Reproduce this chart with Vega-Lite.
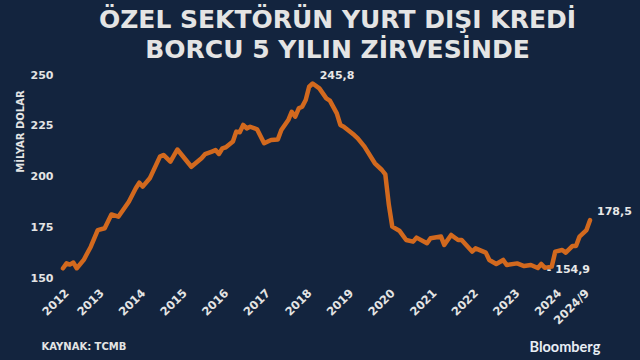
{
  "$schema": "https://vega.github.io/schema/vega-lite/v6.json",
  "width": 527,
  "height": 203,
  "autosize": {"type": "none"},
  "padding": {"left": 63, "top": 75, "right": 50, "bottom": 82},
  "background": "#13243e",
  "config": {"view": {"stroke": null}, "font": "DejaVu Sans"},
  "title": {
    "text": ["ÖZEL SEKTÖRÜN YURT DIŞI KREDİ", "BORCU 5 YILIN ZİRVESİNDE"],
    "font": "DejaVu Sans",
    "fontSize": 25,
    "fontWeight": "bold",
    "color": "#e4e4e4",
    "anchor": "middle",
    "frame": "group",
    "dx": 11,
    "offset": 6,
    "lineHeight": 30
  },
  "datasets": {
    "debt": [
      {"date": "2012-01-01", "value": 154.8},
      {"date": "2012-02-01", "value": 157.2},
      {"date": "2012-03-01", "value": 156.6},
      {"date": "2012-04-01", "value": 157.6},
      {"date": "2012-05-01", "value": 154.8},
      {"date": "2012-07-01", "value": 158.9},
      {"date": "2012-08-01", "value": 162.2},
      {"date": "2012-09-01", "value": 165.4},
      {"date": "2012-11-01", "value": 173.6},
      {"date": "2013-01-01", "value": 174.5},
      {"date": "2013-03-01", "value": 181.3},
      {"date": "2013-05-01", "value": 180.2},
      {"date": "2013-08-01", "value": 187.6},
      {"date": "2013-10-01", "value": 194.2},
      {"date": "2013-11-01", "value": 197.0},
      {"date": "2013-12-01", "value": 195.0},
      {"date": "2014-02-01", "value": 199.1},
      {"date": "2014-05-01", "value": 209.8},
      {"date": "2014-06-01", "value": 210.6},
      {"date": "2014-08-01", "value": 207.3},
      {"date": "2014-10-01", "value": 213.3},
      {"date": "2015-02-01", "value": 204.8},
      {"date": "2015-05-01", "value": 209.0},
      {"date": "2015-06-01", "value": 211.0},
      {"date": "2015-08-01", "value": 212.3},
      {"date": "2015-09-01", "value": 213.0},
      {"date": "2015-10-01", "value": 211.1},
      {"date": "2015-11-01", "value": 213.9},
      {"date": "2015-12-01", "value": 214.4},
      {"date": "2016-02-01", "value": 217.2},
      {"date": "2016-03-01", "value": 222.1},
      {"date": "2016-04-01", "value": 221.8},
      {"date": "2016-05-01", "value": 225.4},
      {"date": "2016-06-01", "value": 223.7},
      {"date": "2016-07-01", "value": 224.5},
      {"date": "2016-09-01", "value": 223.2},
      {"date": "2016-11-01", "value": 216.4},
      {"date": "2017-01-01", "value": 218.0},
      {"date": "2017-03-01", "value": 218.2},
      {"date": "2017-04-01", "value": 222.9},
      {"date": "2017-06-01", "value": 227.8},
      {"date": "2017-07-01", "value": 231.9},
      {"date": "2017-08-01", "value": 229.5},
      {"date": "2017-09-01", "value": 233.6},
      {"date": "2017-10-01", "value": 234.4},
      {"date": "2017-11-01", "value": 237.7},
      {"date": "2017-12-01", "value": 244.2},
      {"date": "2018-01-01", "value": 245.8},
      {"date": "2018-03-01", "value": 243.4},
      {"date": "2018-05-01", "value": 238.5},
      {"date": "2018-06-01", "value": 237.4},
      {"date": "2018-08-01", "value": 231.1},
      {"date": "2018-09-01", "value": 225.4},
      {"date": "2018-10-01", "value": 224.5},
      {"date": "2019-01-01", "value": 220.4},
      {"date": "2019-02-01", "value": 218.8},
      {"date": "2019-04-01", "value": 214.7},
      {"date": "2019-07-01", "value": 206.5},
      {"date": "2019-09-01", "value": 203.2},
      {"date": "2019-10-01", "value": 201.0},
      {"date": "2019-11-01", "value": 186.0},
      {"date": "2019-12-01", "value": 175.3},
      {"date": "2020-02-01", "value": 173.3},
      {"date": "2020-04-01", "value": 168.7},
      {"date": "2020-06-01", "value": 167.9},
      {"date": "2020-07-01", "value": 169.9},
      {"date": "2020-10-01", "value": 167.1},
      {"date": "2020-11-01", "value": 169.6},
      {"date": "2021-02-01", "value": 170.4},
      {"date": "2021-03-01", "value": 166.3},
      {"date": "2021-05-01", "value": 171.2},
      {"date": "2021-07-01", "value": 168.7},
      {"date": "2021-08-01", "value": 168.7},
      {"date": "2021-11-01", "value": 163.0},
      {"date": "2021-12-01", "value": 164.6},
      {"date": "2022-03-01", "value": 162.5},
      {"date": "2022-04-01", "value": 158.9},
      {"date": "2022-06-01", "value": 156.9},
      {"date": "2022-08-01", "value": 158.9},
      {"date": "2022-09-01", "value": 156.4},
      {"date": "2022-12-01", "value": 157.2},
      {"date": "2023-02-01", "value": 155.9},
      {"date": "2023-04-01", "value": 156.4},
      {"date": "2023-06-01", "value": 154.9},
      {"date": "2023-07-01", "value": 156.9},
      {"date": "2023-08-01", "value": 155.0},
      {"date": "2023-10-01", "value": 155.6},
      {"date": "2023-11-01", "value": 163.0},
      {"date": "2024-01-01", "value": 163.8},
      {"date": "2024-02-01", "value": 162.5},
      {"date": "2024-04-01", "value": 165.8},
      {"date": "2024-05-01", "value": 165.8},
      {"date": "2024-06-01", "value": 170.4},
      {"date": "2024-08-01", "value": 173.6},
      {"date": "2024-09-01", "value": 178.5}
    ],
    "labels": [
      {"date": "2018-01-01", "value": 245.8, "text": "245,8"},
      {"date": "2024-09-01", "value": 178.5, "text": "178,5"}
    ],
    "minlabel": [
      {"date": "2023-06-01", "value": 154.9, "text": "- 154,9"}
    ]
  },
  "resolve": {"axis": {"y": "independent"}},
  "layer": [
    {
      "data": {"name": "debt"},
      "mark": {"type": "line", "color": "#d2691e", "strokeWidth": 4.5, "strokeJoin": "round", "strokeCap": "round"},
      "encoding": {
        "x": {
          "field": "date",
          "type": "temporal",
          "scale": {"type": "utc", "domain": [{"year": 2012, "month": 1, "date": 1, "utc": true}, {"year": 2024, "month": 9, "date": 1, "utc": true}]},
          "axis": {
            "values": [
              {"year": 2012, "month": 3, "date": 1, "utc": true},
              {"year": 2013, "month": 1, "date": 1, "utc": true},
              {"year": 2014, "month": 1, "date": 1, "utc": true},
              {"year": 2015, "month": 1, "date": 1, "utc": true},
              {"year": 2016, "month": 1, "date": 1, "utc": true},
              {"year": 2017, "month": 1, "date": 1, "utc": true},
              {"year": 2018, "month": 1, "date": 1, "utc": true},
              {"year": 2019, "month": 1, "date": 1, "utc": true},
              {"year": 2020, "month": 1, "date": 1, "utc": true},
              {"year": 2021, "month": 1, "date": 1, "utc": true},
              {"year": 2022, "month": 1, "date": 1, "utc": true},
              {"year": 2023, "month": 1, "date": 1, "utc": true},
              {"year": 2024, "month": 1, "date": 1, "utc": true},
              {"year": 2024, "month": 9, "date": 1, "utc": true}
            ],
            "labelExpr": "utcmonth(datum.value) == 8 ? '2024/9' : utcFormat(datum.value, '%Y')",
            "labelAngle": -45,
            "labelAlign": "right",
            "labelBaseline": "top",
            "labelPadding": 9,
            "labelOffset": -7,
            "labelFont": "DejaVu Sans",
            "labelFontSize": 11.5,
            "labelFontWeight": "bold",
            "labelColor": "#e4e4e4",
            "labelOverlap": false,
            "labelBound": false,
            "labelFlush": false,
            "grid": false,
            "domain": false,
            "ticks": false,
            "title": "KAYNAK:  TCMB",
            "titleFont": "DejaVu Sans",
            "titleFontSize": 10,
            "titleFontWeight": "bold",
            "titleColor": "#e4e4e4",
            "titleAnchor": "start",
            "titleAlign": "left",
            "titleBaseline": "middle",
            "titleX": -22,
            "titleY": 68
          }
        },
        "y": {
          "field": "value",
          "type": "quantitative",
          "scale": {"domain": [150, 250], "nice": false, "zero": false},
          "axis": {
            "values": [150, 175, 200, 225, 250],
            "grid": false,
            "domain": false,
            "ticks": false,
            "labelPadding": 10,
            "labelFont": "DejaVu Sans",
            "labelFontSize": 11,
            "labelFontWeight": "bold",
            "labelColor": "#e4e4e4",
            "title": "MİLYAR DOLAR",
            "titleFont": "DejaVu Sans",
            "titleFontSize": 10,
            "titleFontWeight": "bold",
            "titleColor": "#e4e4e4",
            "titleAngle": -90,
            "titleAlign": "center",
            "titleBaseline": "middle",
            "titleX": -43,
            "titleY": 56
          }
        }
      }
    },
    {
      "data": {"name": "labels"},
      "mark": {"type": "text", "align": "left", "dx": 7, "dy": -8, "font": "DejaVu Sans", "fontSize": 11, "fontWeight": "bold", "color": "#e8e8e8"},
      "encoding": {
        "x": {"field": "date", "type": "temporal"},
        "y": {
          "field": "value",
          "type": "quantitative",
          "axis": {
            "orient": "right",
            "labels": false,
            "ticks": false,
            "domain": false,
            "grid": false,
            "title": "Bloomberg",
            "titleFont": "Lato",
            "titleFontSize": 14.5,
            "titleFontWeight": "bold",
            "titleColor": "#e8eef5",
            "titleAngle": 0,
            "titleAlign": "left",
            "titleBaseline": "middle",
            "titleX": -61,
            "titleY": 272
          }
        },
        "text": {"field": "text"}
      }
    },
    {
      "data": {"name": "minlabel"},
      "mark": {"type": "text", "align": "left", "dx": 9, "dy": 2, "font": "DejaVu Sans", "fontSize": 11, "fontWeight": "bold", "color": "#e8e8e8"},
      "encoding": {
        "x": {"field": "date", "type": "temporal"},
        "y": {"field": "value", "type": "quantitative", "axis": null},
        "text": {"field": "text"}
      }
    }
  ]
}
